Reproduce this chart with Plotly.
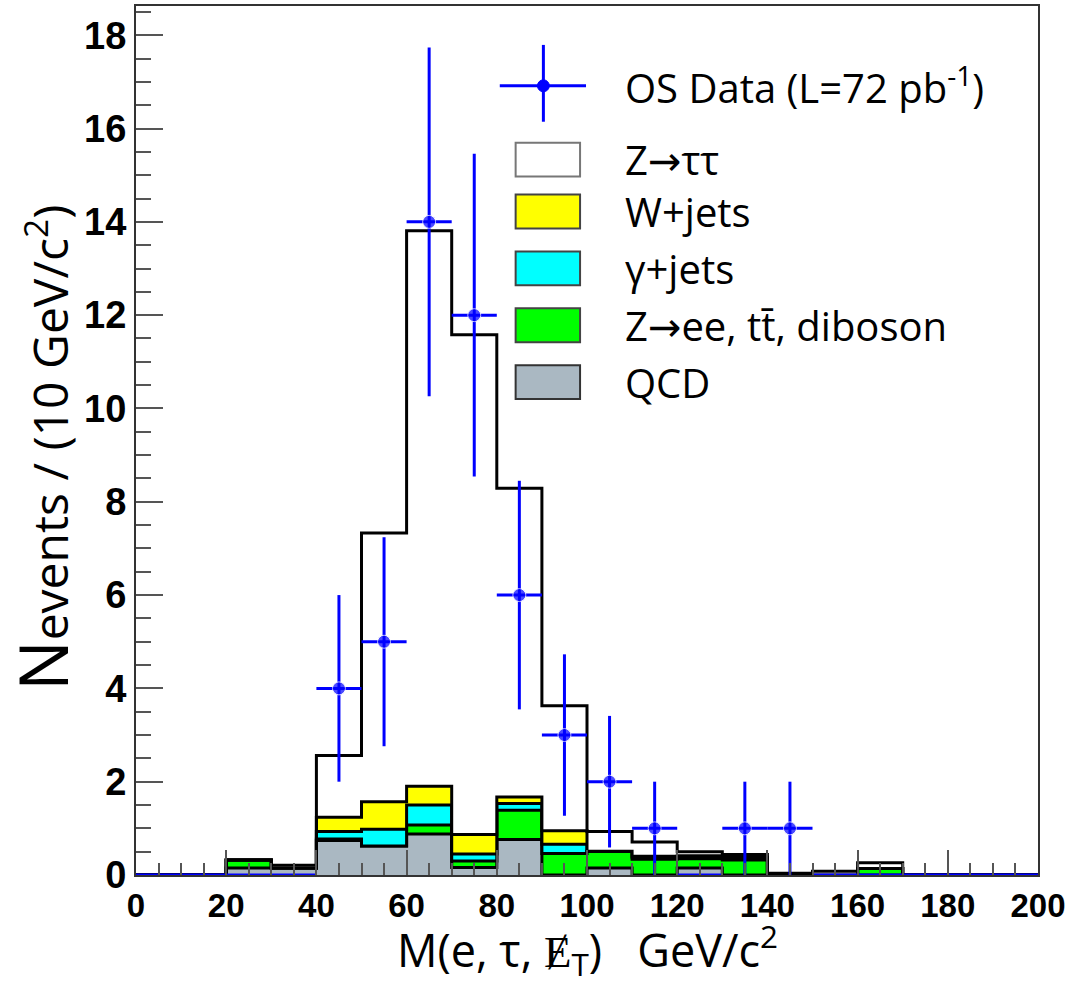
import plotly.graph_objects as go

# ---- binning: 10 GeV/c^2 bins from 0 to 200 ----
bin_edges = list(range(0, 210, 10))
bin_centers = [e + 5 for e in bin_edges[:-1]]

# ---- background stack contributions (events per bin), bottom to top ----
qcd = [0, 0, 0.15, 0.15, 0.74, 0.62, 0.88, 0.16, 0.76, 0, 0.15, 0, 0.15, 0, 0, 0, 0, 0, 0, 0]
zee_tt_diboson = [0, 0, 0.17, 0, 0.03, 0, 0.19, 0.14, 0.63, 0.46, 0.36, 0.34, 0.20, 0.32, 0, 0, 0.14, 0, 0, 0]
gamma_jets = [0, 0, 0, 0, 0.16, 0.36, 0.43, 0.15, 0.14, 0.20, 0, 0.03, 0.03, 0.03, 0, 0, 0, 0, 0, 0]
w_jets = [0, 0, 0, 0, 0.31, 0.59, 0.40, 0.42, 0.14, 0.29, 0, 0.03, 0.03, 0.03, 0, 0, 0, 0, 0, 0]
z_tautau = [0, 0, 0, 0.06, 1.32, 5.76, 11.91, 10.71, 6.62, 2.68, 0.42, 0.31, 0.09, 0.06, 0.04, 0.08, 0.12, 0, 0, 0]

# ---- opposite-sign data ----
data_counts = [0, 0, 0, 0, 4, 5, 14, 12, 6, 3, 2, 1, 0, 1, 1, 0, 0, 0, 0, 0]
data_err = [0, 0, 0, 0, 2.0, 2.24, 3.74, 3.46, 2.45, 1.73, 1.41, 1.0, 0, 1.0, 1.0, 0, 0, 0, 0, 0]

stack = [
    ("QCD", qcd, "#aab8c2"),
    ("Z->ee, tt, diboson", zee_tt_diboson, "#00ff00"),
    ("gamma+jets", gamma_jets, "#00ffff"),
    ("W+jets", w_jets, "#ffff00"),
    ("Z->tautau", z_tautau, "#ffffff"),
]

# ---- page geometry (pixels) ----
W, H = 1070, 988
L, R, T, B = 136, 1046, 4, 875
Y_MAX = (B - T) / 46.76


def px(xp):
    return (xp - L) / (R - L)


def py(yp):
    return (B - yp) / (B - T)


fig = go.Figure()

for name, vals, color in stack:
    fig.add_trace(go.Scatter(
        x=bin_edges, y=vals + [vals[-1]],
        mode="lines", line=dict(shape="hv", color="black", width=3),
        stackgroup="bkg", fillcolor=color, name=name, showlegend=False,
    ))

fig.add_trace(go.Scatter(
    x=bin_centers, y=data_counts, mode="markers",
    marker=dict(color="#0000ff", size=[13 if c > 0 else 0 for c in data_counts]),
    error_y=dict(type="data", array=data_err, arrayminus=data_err,
                 color="#0000ff", thickness=3, width=0),
    error_x=dict(type="constant", value=5, color="#0000ff", thickness=3, width=0),
    cliponaxis=False, showlegend=False,
))

axis_common = dict(
    showline=True, linecolor="#333333", linewidth=2, mirror=True,
    ticks="inside", tickcolor="#555555", tickwidth=2,
    showgrid=False, zeroline=False, ticklabeloverflow="allow",
)

fig.update_xaxes(
    range=[0, 200], dtick=20, tick0=0, ticklen=25,
    minor=dict(dtick=5, ticklen=12, ticks="inside", tickcolor="#555555", tickwidth=2),
    tickfont=dict(family="Liberation Sans", size=33, color="black", weight="bold"),
    **axis_common,
)
fig.update_yaxes(
    range=[0, Y_MAX], dtick=2, tick0=0, ticklen=27,
    minor=dict(dtick=0.5, ticklen=15, ticks="inside", tickcolor="#555555", tickwidth=2),
    tickfont=dict(family="Liberation Sans", size=38, color="black", weight="bold"),
    **axis_common,
)

annotations = []
shapes = []
TXT = "Open Sans"
ARROW = "<span style='font-family:DejaVu Sans'>\u2192</span>"

# axis titles
annotations.append(dict(
    xref="paper", yref="paper", x=0.5, y=py(950), xanchor="center", yanchor="middle",
    text="M(e, τ, \u0246<sub>T</sub>)\u00a0\u00a0\u00a0GeV/c<sup>2</sup>",
    showarrow=False, font=dict(family=TXT, size=45, color="black"),
))
annotations.append(dict(
    xref="paper", yref="paper", x=px(90), y=py(692), xanchor="right", yanchor="bottom",
    textangle=-90,
    text="<span style='font-size:67px'>N</span>events / (10 GeV/c<sup>2</sup>)",
    showarrow=False, font=dict(family=TXT, size=48, color="black"),
))

# legend: data entry
shapes.append(dict(type="line", xref="paper", yref="paper", x0=px(503), x1=px(590), y0=py(84), y1=py(84),
                   line=dict(color="#0000ff", width=3)))
shapes.append(dict(type="line", xref="paper", yref="paper", x0=px(547), x1=px(547), y0=py(43), y1=py(120),
                   line=dict(color="#0000ff", width=3)))
shapes.append(dict(type="circle", xref="paper", yref="paper", x0=px(541), x1=px(553), y0=py(78), y1=py(90),
                   fillcolor="#0000ff", line=dict(color="#0000ff", width=1)))
annotations.append(dict(
    xref="paper", yref="paper", x=px(627), y=py(84), xanchor="left", yanchor="middle",
    text="OS Data (L=72 pb<sup>-1</sup>)", showarrow=False, font=dict(family=TXT, size=40, color="black"),
))

legend_rows = [
    ("Z" + ARROW + "\u03c4\u03c4", "#ffffff", "#777777", 158),
    ("W+jets", "#ffff00", "#444444", 210),
    ("\u03b3+jets", "#00ffff", "#444444", 267),
    ("Z" + ARROW + "ee, tt\u0304, diboson", "#00ff00", "#444444", 324),
    ("QCD", "#aab8c2", "#333333", 381),
]
for label, fill, edge, yc in legend_rows:
    shapes.append(dict(type="rect", xref="paper", yref="paper",
                       x0=px(519), x1=px(584), y0=py(yc + 17), y1=py(yc - 17),
                       fillcolor=fill, line=dict(color=edge, width=2)))
    annotations.append(dict(
        xref="paper", yref="paper", x=px(627), y=py(yc), xanchor="left", yanchor="middle",
        text=label, showarrow=False, font=dict(family=TXT, size=40, color="black"),
    ))

fig.update_layout(
    width=W, height=H,
    margin=dict(l=L, r=W - R, t=T, b=H - B),
    paper_bgcolor="white", plot_bgcolor="white",
    showlegend=False,
    annotations=annotations, shapes=shapes,
)

fig.write_html("out.html")
